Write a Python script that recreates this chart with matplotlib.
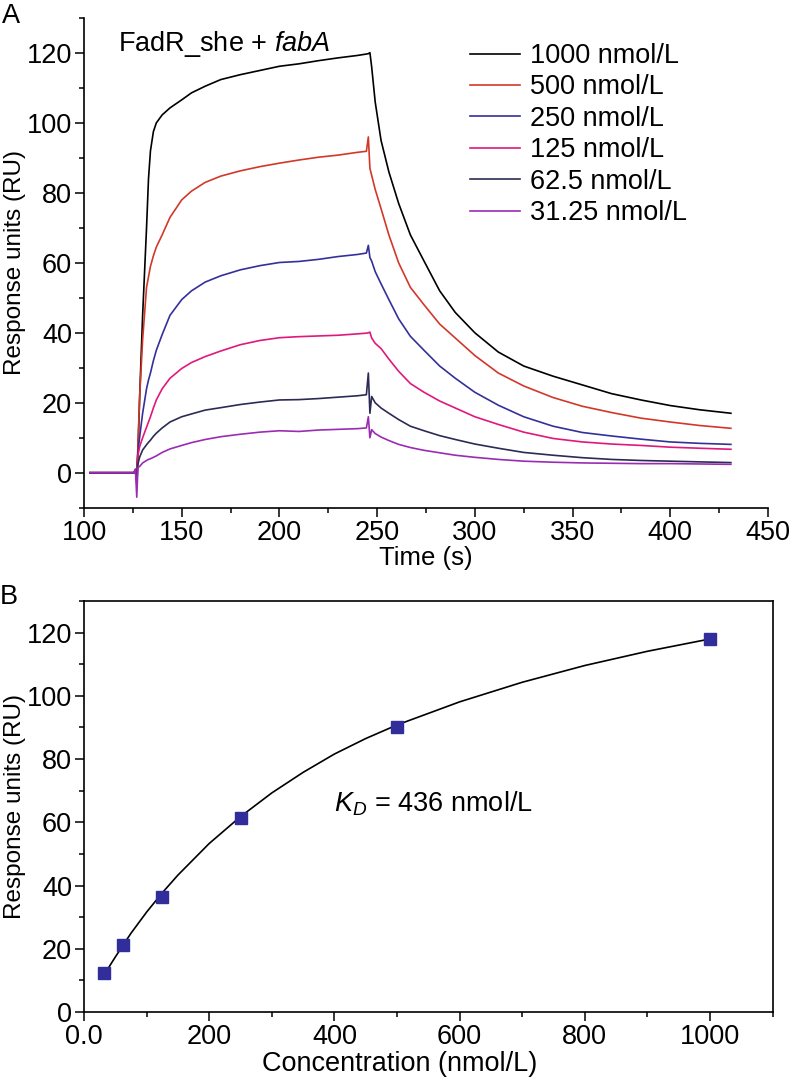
import numpy as np
import matplotlib
matplotlib.use('Agg')
from matplotlib import pyplot as plt
from matplotlib.ticker import MultipleLocator, FixedLocator, FixedFormatter

plt.rcParams['font.family'] = ['Liberation Sans', 'DejaVu Sans']
plt.rcParams['mathtext.fontset'] = 'custom'
plt.rcParams['mathtext.rm'] = 'Liberation Sans'
plt.rcParams['mathtext.it'] = 'Liberation Sans:italic'

# ---- panel A: sensorgrams ----
time_s = [103, 115, 125.5, 126.3, 127, 127.6, 128.5, 130, 132, 133, 134, 135.5, 137, 140, 144,
          150, 155, 162, 170, 180, 190, 200, 210, 220, 230, 240, 244.5, 245.5,
          246.3, 247.2, 249, 252, 256, 261, 267, 274, 282, 290, 300, 312, 325,
          340, 355, 370, 385, 400, 415, 431]

ru_1000 = [0, 0, 0, 0, 0, 6, 22, 45, 70, 84, 92, 97.5, 100, 102.3, 104.3,
           106.6, 108.6, 110.5, 112.4, 113.8, 115, 116.2, 116.9, 117.8, 118.6, 119.3, 119.7, 119.8,
           120.1, 116, 106, 95, 86, 77, 68, 60.5, 52, 45.8, 40, 34.5, 30.5,
           27.6, 25.1, 22.6, 20.8, 19.2, 18, 17]
ru_500 = [0, 0, 0, 0.5, -1, 8, 22, 38, 53, 56, 59, 62, 64.5, 68, 73,
          78, 80.5, 83, 84.8, 86.3, 87.5, 88.5, 89.4, 90.2, 90.8, 91.6, 91.9, 96,
          87, 85, 81, 75.5, 68, 60, 53, 48, 42.5, 38.5, 33.5, 28.5, 24.8,
          21.5, 19, 17.2, 15.6, 14.5, 13.5, 12.7]
ru_250 = [0, 0, 0, 0.5, -2, 6, 10.3, 17, 24, 26.5, 28.5, 32, 35, 39.5, 45,
          49.5, 52, 54.5, 56.3, 58, 59.2, 60.1, 60.4, 61, 61.8, 62.4, 62.8, 65,
          61.5, 60.5, 57.5, 54, 49.5, 44, 39, 35, 30.5, 27, 23, 19.3, 16,
          13.3, 11.5, 10.5, 9.6, 8.8, 8.4, 8.1]
ru_125 = [0, 0, 0, 0.5, -2, 5, 7.5, 10, 13, 14.5, 16, 18.5, 20.8, 24, 27,
          29.8, 31.5, 33.2, 34.8, 36.6, 37.8, 38.6, 38.9, 39.1, 39.3, 39.7, 39.9, 40,
          40.2, 38.5, 37, 35.5, 32.5, 29, 25.5, 23, 20.5, 18.5, 16, 13.8, 11.6,
          9.8, 8.8, 8.2, 7.8, 7.3, 7, 6.7]
ru_62 = [0, 0, 0, 1, -3, 2.5, 4.5, 6.5, 8, 8.7, 9.3, 10.4, 11.3, 12.8, 14.5,
         16, 16.8, 17.9, 18.6, 19.5, 20.2, 20.8, 20.9, 21.2, 21.6, 22, 22.3, 28.5,
         17, 21.8, 20, 18.5, 17, 15.2, 13.3, 12, 10.6, 9.5, 8.2, 7, 5.8,
         5, 4.3, 3.8, 3.5, 3.3, 3.1, 2.9]
ru_31 = [0, 0, 0, 1, -7, 1.5, 1.8, 2.8, 3.5, 3.8, 4, 4.4, 4.8, 5.8, 6.8,
         7.8, 8.6, 9.5, 10.3, 11, 11.6, 12, 11.8, 12.2, 12.4, 12.6, 12.8, 16,
         10, 12.3, 11.2, 10.2, 9.2, 8.1, 7.2, 6.4, 5.7, 5, 4.4, 3.8, 3.3,
         3, 2.8, 2.7, 2.6, 2.6, 2.5, 2.4]

curves = [ru_1000, ru_500, ru_250, ru_125, ru_62, ru_31]
labels = ['1000 nmol/L', '500 nmol/L', '250 nmol/L', '125 nmol/L',
          '62.5 nmol/L', '31.25 nmol/L']
colors = ['#000000', '#d2382a', '#34309a', '#e0187c', '#2b2b55', '#9a2cb4']

# ---- panel B: steady-state responses and fitted curve ----
conc = [31.25, 62.5, 125, 250, 500, 1000]
resp = [12.2, 21.3, 36.5, 61.3, 90.2, 118]
fit_conc = [31.25, 50, 75, 100, 125, 150, 200, 250, 300, 350, 400, 450, 500,
            600, 700, 800, 900, 1000]
fit_resp = [11.5, 17.4, 24.9, 31.6, 37.7, 43.3, 53.3, 61.8, 69.3, 75.8, 81.6, 86.5, 90.8,
            98.1, 104.3, 109.6, 114.1, 118]
b_xticks = [0, 200, 400, 600, 800, 1000]
b_xticklabels = ['0.0', '200', '400', '600', '800', '1000']

fs = 19.5
fs_ylab = 17.5
W, H = 793, 1080
fig = plt.figure(figsize=(W / 100, H / 100), dpi=100)

# panel A
axA = fig.add_axes([84 / W, 1 - 507.7 / H, (768 - 84) / W, (507.7 - 18) / H])
for y, lab, c in zip(curves, labels, colors):
    axA.plot(time_s, y, color=c, lw=1.2, label=lab)
axA.set_xlim(100, 450)
axA.set_ylim(-10, 130)
axA.xaxis.set_major_locator(MultipleLocator(50))
axA.xaxis.set_minor_locator(MultipleLocator(25))
axA.yaxis.set_major_locator(MultipleLocator(20))
axA.yaxis.set_minor_locator(MultipleLocator(10))
axA.spines['top'].set_visible(False)
axA.spines['right'].set_visible(False)
axA.set_xlabel('Time (s)', fontsize=18.5, labelpad=0)
axA.set_ylabel('Response units (RU)', fontsize=fs_ylab)
axA.yaxis.set_label_coords((26 - 84) / 684, 0.5)
axA.legend(loc='upper left', bbox_to_anchor=(470 / W, 1 - 43 / H),
           bbox_transform=fig.transFigure, frameon=False, fontsize=fs,
           handlelength=1.85, handletextpad=0.35, labelspacing=0.2,
           borderpad=0, borderaxespad=0)
fig.text(118 / W, 1 - 51 / H, 'FadR_she + $\\mathit{fabA}$', fontsize=fs,
         va='baseline', ha='left')

# panel B
axB = fig.add_axes([84 / W, 1 - 1012 / H, (772.7 - 84) / W, (1012 - 601) / H])
axB.plot(fit_conc, fit_resp, color='black', lw=1.2, zorder=2)
axB.plot(conc, resp, 's', color='#312e9c', markersize=8.5, zorder=3)
axB.set_xlim(0, 1100)
axB.set_ylim(0, 130)
axB.xaxis.set_major_locator(FixedLocator(b_xticks))
axB.xaxis.set_major_formatter(FixedFormatter(b_xticklabels))
axB.xaxis.set_minor_locator(MultipleLocator(100))
axB.yaxis.set_major_locator(MultipleLocator(20))
axB.yaxis.set_minor_locator(MultipleLocator(10))
axB.set_xlabel('Concentration (nmol/L)', fontsize=fs, labelpad=0)
axB.xaxis.set_label_coords((400 - 84) / 688.7, -0.096)
axB.set_ylabel('Response units (RU)', fontsize=fs_ylab)
axB.yaxis.set_label_coords((26 - 84) / 688.7, 0.5)
axB.text(400, 66, '$K_D$ = 436 nmol/L', fontsize=fs, va='center', ha='left')

for ax in (axA, axB):
    for s in ax.spines.values():
        s.set_linewidth(1.2)
    ax.tick_params(which='both', direction='out', top=False, right=False,
                   labelsize=fs, width=1.1, pad=2)
    ax.tick_params(which='major', length=6.5)
    ax.tick_params(which='minor', length=3.6)

fig.text(2 / W, 1 - 3 / H, 'A', fontsize=fs, va='top', ha='left')
fig.text(0 / W, 1 - 584 / H, 'B', fontsize=fs, va='top', ha='left')

fig.savefig('out.png', dpi=100)
